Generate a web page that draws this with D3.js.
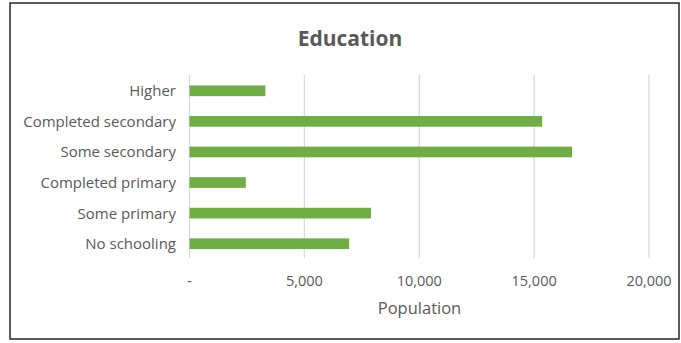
<!DOCTYPE html>
<html>
<head>
<meta charset="utf-8">
<script src="https://cdn.jsdelivr.net/npm/d3@7"></script>
<style>
  html, body { margin: 0; padding: 0; background: #fff; }
  svg { display: block; }
</style>
</head>
<body>
<svg id="chart" width="681" height="343"></svg>
<script>
// Population by highest level of education attained
const categories = ["Higher", "Completed secondary", "Some secondary", "Completed primary", "Some primary", "No schooling"];
const population = [3300, 15350, 16650, 2450, 7900, 6950];
const xTicks = [0, 5000, 10000, 15000, 20000];
const tickLabels = ["-", "5,000", "10,000", "15,000", "20,000"];
const chartTitle = "Education";
const axisTitle = "Population";

const font = "'Open Sans', 'Noto Sans', sans-serif";
const textColor = "#595959";
const barColor = "#70ad47";
const gridColor = "#d9d9d9";

const svg = d3.select("#chart");

// Chart frame
svg.append("rect")
  .attr("x", 10).attr("y", 3)
  .attr("width", 669).attr("height", 336)
  .attr("fill", "#fff")
  .attr("stroke", "#262626")
  .attr("stroke-width", 1.5);

const x = d3.scaleLinear().domain([0, 20000]).range([189.5, 649]);
const y = d3.scaleBand().domain(categories).range([75.5, 259]).paddingInner(0.65).paddingOuter(0.325);

// Vertical gridlines
svg.append("g")
  .selectAll("line")
  .data(xTicks)
  .join("line")
  .attr("x1", d => x(d)).attr("x2", d => x(d))
  .attr("y1", 75).attr("y2", 258)
  .attr("stroke", gridColor)
  .attr("stroke-width", 1.3);

// Bars
svg.append("g")
  .selectAll("rect")
  .data(categories)
  .join("rect")
  .attr("x", x(0))
  .attr("y", d => y(d))
  .attr("width", (d, i) => x(population[i]) - x(0))
  .attr("height", y.bandwidth())
  .attr("fill", barColor);

// Category labels
svg.append("g")
  .selectAll("text")
  .data(categories)
  .join("text")
  .attr("x", 176)
  .attr("y", d => y(d) + y.bandwidth() / 2 + 5.5)
  .attr("text-anchor", "end")
  .attr("font-family", font)
  .attr("font-size", 15)
  .attr("fill", textColor)
  .text(d => d);

// Value axis tick labels
svg.append("g")
  .selectAll("text")
  .data(xTicks)
  .join("text")
  .attr("x", d => x(d))
  .attr("y", 285.5)
  .attr("text-anchor", "middle")
  .attr("font-family", font)
  .attr("font-size", 14.5)
  .attr("fill", textColor)
  .text((d, i) => tickLabels[i]);

// Axis title
svg.append("text")
  .attr("x", 419.5)
  .attr("y", 314)
  .attr("text-anchor", "middle")
  .attr("font-family", font)
  .attr("font-size", 16.5)
  .attr("fill", textColor)
  .text(axisTitle);

// Chart title
svg.append("text")
  .attr("x", 350)
  .attr("y", 46)
  .attr("text-anchor", "middle")
  .attr("font-family", font)
  .attr("font-weight", "bold")
  .attr("font-size", 21)
  .attr("fill", textColor)
  .text(chartTitle);
</script>
</body>
</html>
